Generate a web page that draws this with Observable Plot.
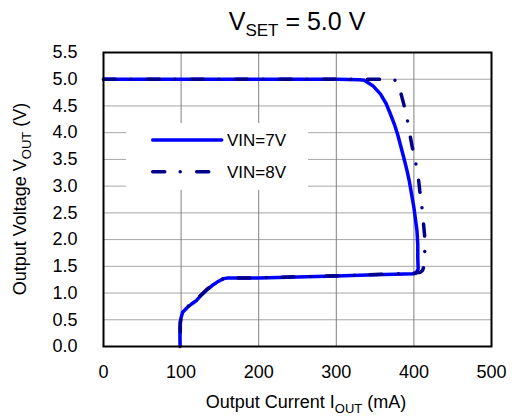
<!DOCTYPE html>
<html><head><meta charset="utf-8">
<script src="https://cdn.jsdelivr.net/npm/d3@7"></script>
<script src="https://cdn.jsdelivr.net/npm/@observablehq/plot@0.6"></script>
<style>
body{margin:0;background:#fff;}
svg{font-family:"Liberation Sans",Arial,sans-serif;}
</style>
</head><body><div id="chart"></div>
<script>
const seriesNames = ["VIN=7V", "VIN=8V"];
const seriesColors = ["#0000ff", "#00008b"];
const xTicks = [0, 100, 200, 300, 400, 500];
const yTicks = [0, 0.5, 1, 1.5, 2, 2.5, 3, 3.5, 4, 4.5, 5, 5.5];

const iout7 = [0, 100, 200, 300, 330, 336, 347, 357, 364, 370, 375, 379, 383, 387, 391, 394, 397, 400, 402, 404, 405, 405, 405.5, 403, 400, 350, 300, 250, 200, 160, 155, 147, 140, 134, 126, 119, 113, 108, 102, 100, 99, 98.5, 98.5, 98.7];
const vout7 = [5.0, 5.0, 5.0, 5.0, 4.99, 4.98, 4.88, 4.72, 4.55, 4.34, 4.15, 3.97, 3.75, 3.53, 3.30, 3.10, 2.85, 2.60, 2.38, 2.16, 1.90, 1.66, 1.45, 1.38, 1.36, 1.34, 1.32, 1.30, 1.28, 1.28, 1.27, 1.21, 1.14, 1.07, 0.96, 0.85, 0.79, 0.73, 0.64, 0.54, 0.45, 0.35, 0.15, 0.0];

const iout8 = [0, 100, 200, 300, 350, 372, 379, 383, 387, 390, 392.5, 395, 398, 401, 403.5, 406, 407.6, 409.5, 411, 412.5, 414, 414, 413, 411, 408, 400, 350, 300, 250, 200, 160, 155, 147, 140, 134, 126, 119, 113, 108, 102, 100, 99, 99, 99, 99];
const vout8 = [5.0, 5.0, 5.0, 5.0, 5.0, 4.99, 4.97, 4.75, 4.53, 4.35, 4.17, 3.95, 3.72, 3.52, 3.35, 3.12, 2.91, 2.72, 2.52, 2.28, 2.04, 1.71, 1.50, 1.42, 1.39, 1.37, 1.345, 1.325, 1.305, 1.285, 1.28, 1.27, 1.22, 1.15, 1.08, 0.97, 0.86, 0.80, 0.74, 0.65, 0.55, 0.45, 0.30, 0.15, 0.0];

const s7 = iout7.map((x, i) => ({x, y: vout7[i]}));
const s8 = iout8.map((x, i) => ({x, y: vout8[i]}));

const chart = Plot.plot({
  width: 514,
  height: 418,
  marginLeft: 103,
  marginRight: 23,
  marginTop: 52,
  marginBottom: 72,
  style: {fontFamily: '"Liberation Sans", Arial, sans-serif', fontSize: "18px", background: "#fff", color: "#000"},
  x: {domain: [0, 500]},
  y: {domain: [0, 5.5]},
  marks: [
    Plot.gridY(yTicks, {stroke: "#a6a6a6", strokeOpacity: 1, strokeWidth: 1}),
    Plot.gridX(xTicks, {stroke: "#808080", strokeOpacity: 1, strokeWidth: 1}),
    Plot.axisX({ticks: xTicks, tickSize: 0, tickPadding: 19, label: null, fontSize: 18}),
    Plot.axisY({ticks: yTicks, tickSize: 0, tickPadding: 26, label: null, tickFormat: d3.format(".1f"), fontSize: 18}),
    Plot.line(s7, {x: "x", y: "y", stroke: seriesColors[0], strokeWidth: 3.5, strokeLinejoin: "round", strokeLinecap: "round"}),
    Plot.line(s8, {x: "x", y: "y", stroke: seriesColors[1], strokeWidth: 3.5, strokeLinejoin: "round", strokeLinecap: "round", strokeDasharray: "12,15.5,0,16.5"}),
    Plot.frame({stroke: "#000", strokeWidth: 2})
  ]
});
document.getElementById("chart").appendChild(chart);

const xs = chart.scale("x"), ys = chart.scale("y");
const svg = d3.select(chart);
const cx = xs.apply(250);

// Title
const t = svg.append("text").attr("x", cx).attr("y", 30).attr("text-anchor", "middle").style("font-size", "25px");
t.append("tspan").text("V");
t.append("tspan").attr("dy", 6).style("font-size", "17px").text("SET");
t.append("tspan").attr("dy", -6).text(" = 5.0 V");

// X axis title
const xt = svg.append("text").attr("x", cx + 9).attr("y", 408).attr("text-anchor", "middle").style("font-size", "18px");
xt.append("tspan").text("Output Current I");
xt.append("tspan").attr("dy", 5).style("font-size", "13px").text("OUT");
xt.append("tspan").attr("dy", -5).text(" (mA)");

// Y axis title
const cy = ys.apply(2.75);
const yt = svg.append("text").attr("transform", `translate(26,${cy}) rotate(-90)`).attr("text-anchor", "middle").style("font-size", "18px");
yt.append("tspan").text("Output Voltage V");
yt.append("tspan").attr("dy", 5).style("font-size", "13px").text("OUT");
yt.append("tspan").attr("dy", -5).text(" (V)");

// Legend
const lg = svg.append("g");
lg.append("rect").attr("x", 126).attr("y", 123).attr("width", 182).attr("height", 67).attr("fill", "#fff");
const legY = [140, 171.7];
seriesNames.forEach((name, i) => {
  lg.append("line").attr("x1", 152.7).attr("x2", 221.7).attr("y1", legY[i]).attr("y2", legY[i])
    .attr("stroke", seriesColors[i]).attr("stroke-width", 3.5).attr("stroke-linecap", "round")
    .attr("stroke-dasharray", i === 1 ? "12,15.5,0,16.5" : null);
  lg.append("text").attr("x", 227).attr("y", legY[i]).attr("dy", "0.35em").attr("text-anchor", "start").style("font-size", "17px").text(name);
});
</script>
</body></html>
